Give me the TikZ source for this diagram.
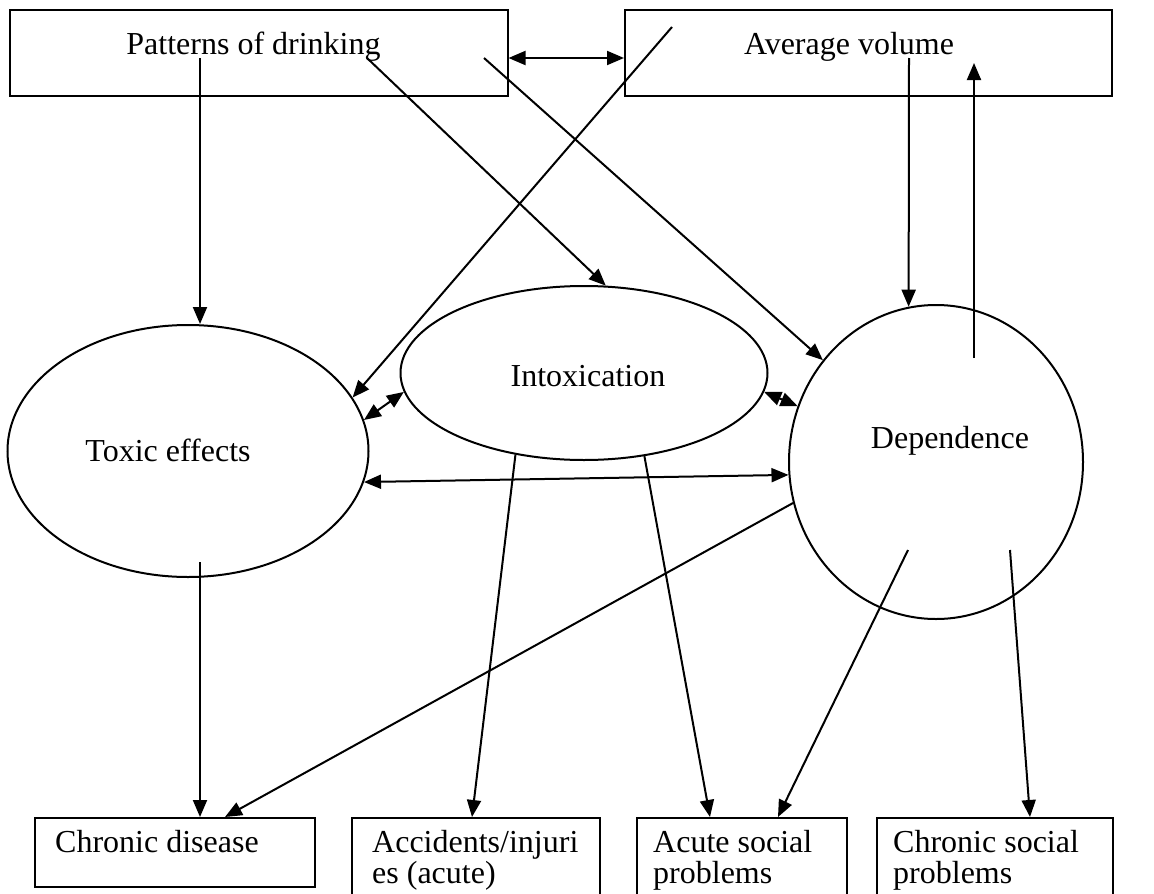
\documentclass[tikz,border=0pt]{standalone}
\usepackage{fontspec}
\setmainfont{Liberation Serif}
\usetikzlibrary{arrows.meta,shapes.geometric}

\begin{document}
\begin{tikzpicture}[x=1pt,y=-1pt,
    font=\fontsize{32}{31}\selectfont,
    box/.style={draw,line width=2pt,inner sep=0pt},
    oval/.style={draw,ellipse,line width=2pt,inner sep=0pt},
    txt/.style={inner sep=0pt,align=left},
    link/.style={line width=2pt,-{Triangle[length=17pt,width=14pt]}},
    both/.style={line width=2pt,{Triangle[length=17pt,width=14pt]}-{Triangle[length=17pt,width=14pt]}}]
  \useasboundingbox (0,0) rectangle (1154,894);

  % top row
  \node[box,minimum width=498pt,minimum height=86pt] (pat) at (258.5,53) {};
  \node[box,minimum width=487pt,minimum height=86pt] (ave) at (868.5,53) {};
  \node[txt,anchor=base] (patT) at (253.5,54) {Patterns of drinking};
  \node[txt,anchor=base] (aveT) at (849,54) {Average volume};

  % middle row
  \node[oval,minimum width=361pt,minimum height=252pt] (tox) at (188,451) {};
  \node[oval,minimum width=367pt,minimum height=174pt] (int) at (584,373) {};
  \node[oval,minimum width=294pt,minimum height=314pt] (dep) at (936,462) {};
  \node[txt,anchor=base] (toxT) at (168,461) {Toxic effects};
  \node[txt,anchor=base] (intT) at (588,386) {Intoxication};
  \node[txt,anchor=base] (depT) at (950,448) {Dependence};

  % bottom row
  \node[box,minimum width=280pt,minimum height=69pt] (cd) at (175,852.5) {};
  \node[box,minimum width=248pt,minimum height=87pt] (acc) at (476,861.5) {};
  \node[box,minimum width=210pt,minimum height=87pt] (asp) at (742,861.5) {};
  \node[box,minimum width=236pt,minimum height=87pt] (csp) at (995,861.5) {};
  \node[txt,anchor=base west] (cdT) at (55,852) {Chronic disease};
  \node[txt,anchor=north west] (accT) at (372,830) {Accidents/injuri\\es (acute)};
  \node[txt,anchor=north west] (aspT) at (653,830) {Acute social\\problems};
  \node[txt,anchor=north west] (cspT) at (893,830) {Chronic social\\problems};

  % free ends inside the shapes
  \coordinate (patA) at (200,58);
  \coordinate (patB) at (367,58);
  \coordinate (patC) at (484,58);
  \coordinate (aveA) at (672,27);
  \coordinate (aveB) at (909,58);
  \coordinate (aveC) at (974,63);
  \coordinate (toxA) at (200,562);
  \coordinate (depA) at (974,358);
  \coordinate (depB) at (908,550);
  \coordinate (depC) at (1010,550);

  \draw[both] ([yshift=-5pt]pat.east) -- ([yshift=-5pt]ave.west);
  \draw[link] (patA) -- (patA |- tox.north);
  \draw[link] (patB) -- (int.76);
  \draw[link] (patC) -- (dep.138);
  \draw[link] (aveA) -- (tox.18);
  \draw[link] (aveB) -- (dep.100);
  \draw[link] (depA) -- (aveC);

  \draw[both] (tox.10) -- (int.186);
  \draw[both] (int.354) -- (dep.158);
  \draw[both] (tox.350) -- (dep.185);

  \draw[link] (toxA) -- (toxA |- cd.north);
  \draw[link] (dep.196) -- ([xshift=50pt]cd.north);
  \draw[link] (int.230) -- ([xshift=-4pt]acc.north);
  \draw[link] (int.306) -- ([xshift=-32pt]asp.north);
  \draw[link] (depB) -- ([xshift=36pt]asp.north);
  \draw[link] (depC) -- ([xshift=35pt]csp.north);
\end{tikzpicture}
\end{document}
